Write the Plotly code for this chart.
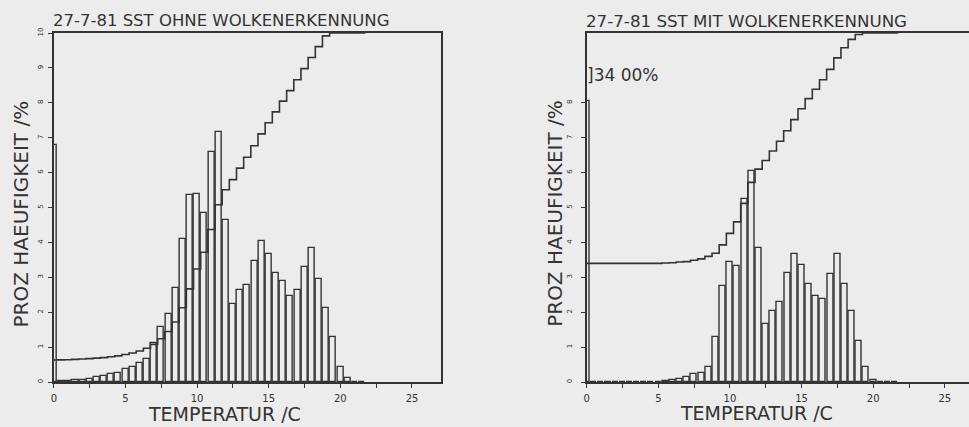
import plotly.graph_objects as go

# ---------------- data ----------------
# bin centres (deg C), bins are 0.5 C wide
temps = [0.0, 0.5, 1.0, 1.5, 2.0, 2.5, 3.0, 3.5, 4.0, 4.5, 5.0, 5.5, 6.0, 6.5, 7.0, 7.5,
         8.0, 8.5, 9.0, 9.5, 10.0, 10.5, 11.0, 11.5, 12.0, 12.5, 13.0, 13.5, 14.0, 14.5,
         15.0, 15.5, 16.0, 16.5, 17.0, 17.5, 18.0, 18.5, 19.0, 19.5, 20.0, 20.5, 21.0, 21.5]

# percent frequency, without cloud detection
freq_ohne = [6.78, 0.03, 0.04, 0.06, 0.07, 0.09, 0.13, 0.18, 0.23, 0.27, 0.38, 0.44, 0.54, 0.67,
             1.12, 1.57, 1.94, 2.68, 4.10, 5.37, 5.40, 4.83, 6.59, 7.15, 4.64, 2.23, 2.65, 2.79,
             3.46, 4.03, 3.68, 3.12, 2.88, 2.46, 2.65, 3.30, 3.85, 2.96, 2.13, 1.28, 0.44, 0.11,
             0.0, 0.0]
# cumulative percent (drawn at 1/10 scale)
cum_ohne = [6.3, 6.35, 6.4, 6.5, 6.6, 6.7, 6.85, 7.0, 7.25, 7.5, 7.9, 8.3, 8.9, 9.7,
            10.8, 12.4, 14.5, 17.2, 21.3, 26.7, 32.4, 37.2, 43.7, 50.8, 55.1, 58.0, 61.3, 64.4,
            67.7, 71.1, 74.3, 77.4, 80.5, 83.5, 86.6, 89.8, 93.0, 96.1, 99.2, 100.0, 100.0, 100.0,
            100.0, 100.0]

# percent frequency, with cloud detection
freq_mit = [34.00, 0.0, 0.0, 0.0, 0.0, 0.0, 0.0, 0.0, 0.0, 0.0, 0.01, 0.02, 0.05, 0.09,
            0.14, 0.22, 0.26, 0.43, 1.28, 2.76, 3.43, 3.31, 5.25, 6.05, 3.83, 1.66, 2.03, 2.30,
            3.12, 3.67, 3.34, 2.81, 2.46, 2.37, 3.10, 3.67, 2.81, 2.03, 1.18, 0.43, 0.07, 0.0,
            0.0, 0.0]
cum_mit = [34.0, 34.0, 34.0, 34.0, 34.0, 34.0, 34.0, 34.0, 34.0, 34.0, 34.0, 34.1, 34.2, 34.4,
           34.5, 34.9, 35.3, 36.0, 36.9, 39.3, 42.6, 45.9, 51.2, 57.2, 61.0, 63.5, 66.2, 69.0,
           72.0, 75.2, 78.3, 81.2, 83.9, 86.6, 89.6, 92.9, 95.8, 98.2, 99.6, 100.0, 100.0, 100.0,
           100.0, 100.0]

title_left = "27-7-81 SST OHNE WOLKENERKENNUNG"
title_right = "27-7-81 SST MIT WOLKENERKENNUNG"
ytitle = "PROZ HAEUFIGKEIT /%"
xtitle = "TEMPERATUR /C"
offscale_label = "]34 00%"
y_ticks_left = [0, 1, 2, 3, 4, 5, 6, 7, 8, 9, 10]
y_ticks_right = [0, 1, 2, 3, 4, 5, 6, 7, 8]
x_ticks = [0, 2.5, 5, 7.5, 10, 12.5, 15, 17.5, 20, 22.5, 25]
x_ticktext = ["0", "", "5", "", "10", "", "15", "", "20", "", "25"]

# ---------------- style ----------------
W, H = 969, 427
INK = "#333333"
BG = "#ececec"
FONT = "DejaVu Sans"
BIN_W = 0.5
BAR_W = 0.42
CUM_SCALE = 10.0       # cumulative drawn in tens of percent
OFFSCALE_CAP = 8.05    # plotting program draws off-scale bars only to this height

def px(xp):
    return xp / W

def py(yp):
    return (H - yp) / H

fig = go.Figure()

def add_panel(freq, cum, xa, ya, capped):
    shown = [min(v, OFFSCALE_CAP) for v in freq] if capped else freq
    fig.add_trace(go.Bar(
        x=temps, y=shown, width=BAR_W, xaxis=xa, yaxis=ya,
        marker=dict(color="rgba(0,0,0,0)", line=dict(color=INK, width=1.4)),
        showlegend=False, hoverinfo="skip"))
    xs = [t - BIN_W / 2 for t in temps] + [temps[-1] + BIN_W / 2]
    ys = [c / CUM_SCALE for c in cum] + [cum[-1] / CUM_SCALE]
    fig.add_trace(go.Scatter(
        x=xs, y=ys, mode="lines", line=dict(color=INK, width=1.6, shape="hv"),
        xaxis=xa, yaxis=ya, showlegend=False, hoverinfo="skip"))

add_panel(freq_ohne, cum_ohne, "x", "y", False)
add_panel(freq_mit, cum_mit, "x2", "y2", True)

PX_PER_C = 388 / 27.0
left_x0, left_x1 = 51, 439
right_x0 = 585.5
y_bot, y_top = 382.3, 27.5

xcommon = dict(showline=True, linecolor=INK, linewidth=1.6, mirror=True,
               showgrid=False, zeroline=False, ticks="outside", ticklen=4,
               tickcolor=INK, tickwidth=1, tickvals=x_ticks, ticktext=x_ticktext,
               tickfont=dict(family=FONT, size=10, color=INK),
               ticklabelstandoff=2, fixedrange=True)
ycommon = dict(showline=True, linecolor=INK, linewidth=1.6,
               showgrid=False, zeroline=False, ticks="outside", ticklen=4,
               tickcolor=INK, tickwidth=1, tickangle=-90,
               tickfont=dict(family=FONT, size=7, color=INK), range=[0, 10],
               domain=[py(y_bot), py(y_top)], fixedrange=True)

fig.update_layout(
    width=W, height=H, margin=dict(l=0, r=0, t=0, b=0),
    paper_bgcolor=BG, plot_bgcolor=BG, bargap=0,
    xaxis=dict(**xcommon, domain=[px(left_x0), px(left_x1)], range=[0, 27], anchor="y"),
    yaxis=dict(**ycommon, mirror=True, anchor="x", tickvals=y_ticks_left,
               ticktext=[str(v) for v in y_ticks_left], ticklabelstandoff=2),
    xaxis2=dict(**xcommon, domain=[px(right_x0), 1.0],
                range=[0, (W - right_x0) / PX_PER_C], anchor="y2"),
    yaxis2=dict(**ycommon, mirror=False, anchor="x2", tickvals=y_ticks_right,
                ticktext=[str(v) for v in y_ticks_right], ticklabelstandoff=6),
)

ann = []
ann.append(dict(text=title_left, x=px(48), y=py(15), xref="paper", yref="paper",
                xanchor="left", yanchor="middle", showarrow=False,
                font=dict(family=FONT, size=16.5, color=INK)))
ann.append(dict(text=title_right, x=px(583), y=py(15), xref="paper", yref="paper",
                xanchor="left", yanchor="middle", showarrow=False,
                font=dict(family=FONT, size=16.7, color=INK)))
for cx in (18, 553):
    ann.append(dict(text=ytitle, x=px(cx), y=py(211), xref="paper", yref="paper",
                    textangle=-90, xanchor="center", yanchor="middle", showarrow=False,
                    font=dict(family=FONT, size=20, color=INK)))
for cx, cy in ((222, 415), (756, 414)):
    ann.append(dict(text=xtitle, x=px(cx), y=py(cy), xref="paper", yref="paper",
                    xanchor="center", yanchor="middle", showarrow=False,
                    font=dict(family=FONT, size=19, color=INK)))
ann.append(dict(text=offscale_label, x=px(584), y=py(70), xref="paper", yref="paper",
                xanchor="left", yanchor="middle", showarrow=False,
                font=dict(family=FONT, size=17, color=INK)))
fig.update_layout(annotations=ann)

fig.write_html("out.html")
